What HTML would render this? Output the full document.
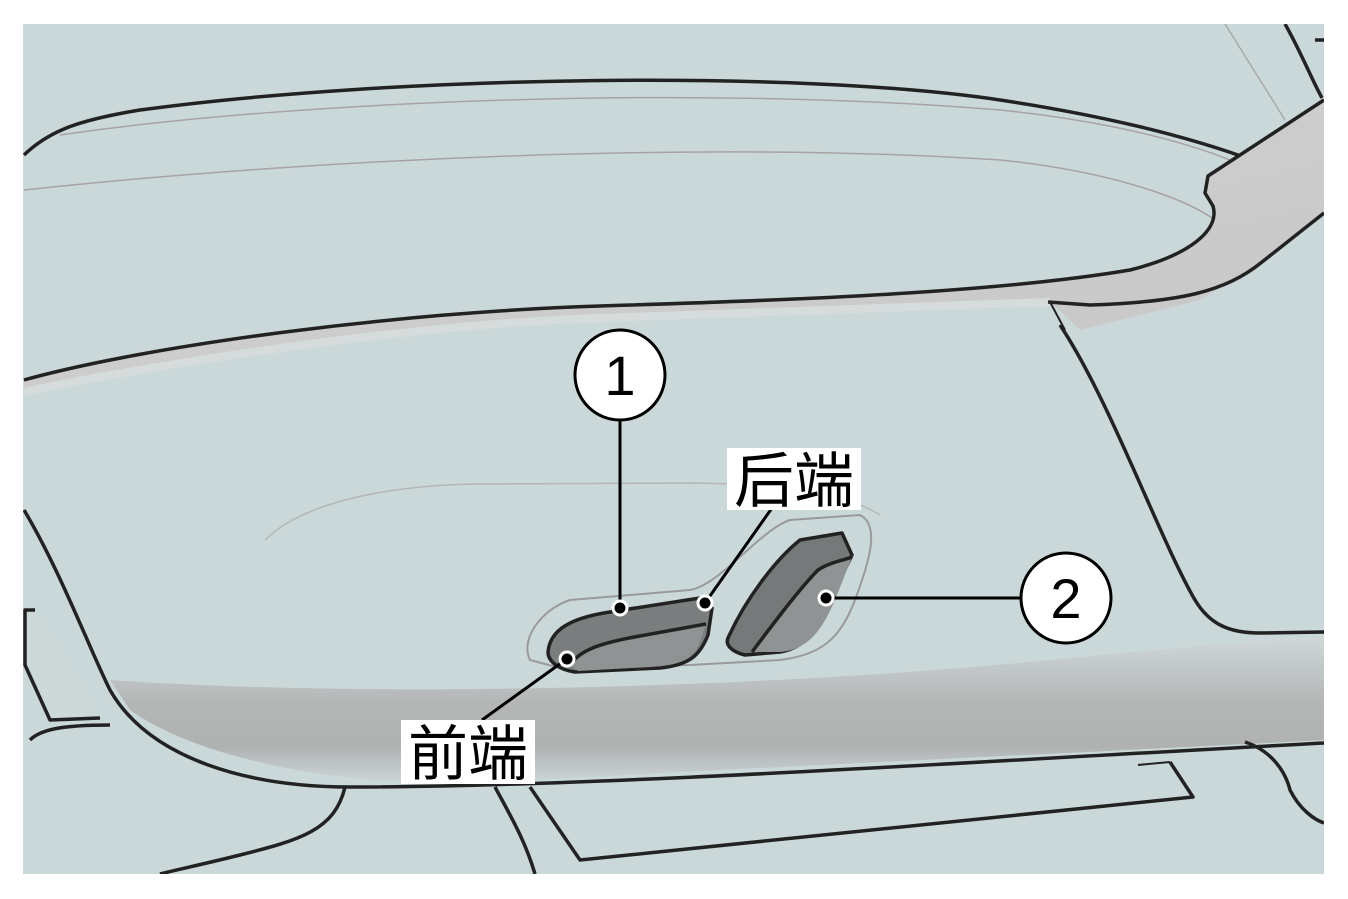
<!DOCTYPE html>
<html><head><meta charset="utf-8"><style>
html,body{margin:0;padding:0;background:#fff;}
svg{display:block;}
text{font-family:"Liberation Sans","Noto Sans CJK SC",sans-serif;}
</style></head><body>
<svg width="1348" height="899" viewBox="0 0 1348 899" xmlns="http://www.w3.org/2000/svg">
<defs>
<linearGradient id="bar" x1="0" y1="0" x2="0" y2="1">
<stop offset="0" stop-color="#cfd8d8"/><stop offset="0.45" stop-color="#b4b6b6"/><stop offset="0.75" stop-color="#b0b2b2"/><stop offset="1" stop-color="#cdd6d7"/>
</linearGradient>
<linearGradient id="trim" x1="0" y1="0" x2="1" y2="1">
<stop offset="0" stop-color="#d4d4d4"/><stop offset="1" stop-color="#c6c6c6"/>
</linearGradient>
<clipPath id="cl"><rect x="23" y="24" width="1301" height="850"/></clipPath>
</defs>
<rect x="23" y="24" width="1301" height="850" fill="#cbd8d9"/>
<g clip-path="url(#cl)" fill="none" stroke="#222" stroke-width="3.5" stroke-linejoin="round">
<path d="M24,190 C300,160 700,140 1000,160 C1100,170 1180,195 1215,220" stroke="#a8a2a2" stroke-width="1.5"/>
<path d="M60,135 C300,100 700,85 1000,110 C1100,120 1180,140 1230,160" stroke="#a8a2a2" stroke-width="1.5"/>
<path d="M1225,24 L1285,120" stroke="#a9a9a9" stroke-width="1.5"/>
<path d="M24,155 C50,130 80,120 140,110 C400,75 800,70 1000,100 C1100,115 1180,135 1238,155"/>
<path d="M1285,24 C1300,50 1312,80 1322,98"/>
<path d="M1315,40 L1324,40"/>
<!-- trim piece -->
<path d="M1324,100 L1240,155 L1208,176 L1205,193 L1213,206 C1220,230 1190,255 1130,270 C1000,292 800,300 600,306 C400,312 150,345 24,380 L24,392 C150,365 400,325 600,318 C800,310 980,304 1050,302 L1080,330 L1200,300 L1260,265 L1324,213 Z" fill="url(#trim)" stroke="none"/>
<path d="M24,392 C150,365 400,325 600,318 C800,310 980,304 1050,302" stroke="#d6dcdc" stroke-width="8"/>
<path d="M1324,100 L1240,155 L1208,176 L1205,193 L1213,206 C1220,230 1190,255 1130,270 C1000,292 800,300 600,306 C400,312 150,345 24,380"/>
<path d="M1324,213 L1262,262 C1225,292 1180,302 1090,305 L1048,302"/>
<path d="M1060,325 C1110,400 1160,540 1195,600 C1210,625 1230,633 1260,633 L1324,632"/>
<path d="M1065,330 L1050,302" stroke-width="2"/>
<!-- lower front bar -->
<path d="M110,680 C400,700 800,685 1050,660 C1200,645 1300,638 1324,636 L1324,740 C1100,752 700,770 500,782 C350,790 200,760 130,710 Z" fill="url(#bar)" stroke="none"/>
<path d="M24,510 C60,570 90,650 110,690 C150,760 250,787 350,787 C600,787 1000,760 1324,743"/>
<path d="M35,610 L25,610 L25,665 L50,720 L100,718" fill="#cdd8d8"/>
<path d="M30,740 C40,730 60,725 110,725"/>
<path d="M345,787 C335,830 300,840 240,855 C200,865 175,870 160,874"/>
<path d="M495,787 C510,815 525,840 535,874"/>
<path d="M530,787 L580,860 L1193,797 L1170,762"/>
<path d="M1138,765 L1170,762" stroke-width="2"/>
<path d="M1245,742 C1270,750 1285,770 1290,790 C1300,810 1315,820 1324,823"/>
<path d="M265,540 C300,505 380,485 480,484 L700,483 C780,485 850,495 880,515" stroke="#b5b5b5" stroke-width="1.5"/>
<path d="M530,660 C520,640 540,610 570,600 L690,590 C720,585 760,530 790,520 L860,515 C880,525 870,560 855,600 C840,640 820,655 780,660 L690,665 L560,668 Z" stroke="#9a9a9a" stroke-width="2"/>
<!-- button 1 -->
<path d="M548,652 C550,630 570,618 610,612 L700,598 L712,608 L708,635 C700,655 690,665 660,668 L575,672 C560,670 548,662 548,652 Z" fill="#7b7e7e"/>
<path d="M570,665 C580,650 600,643 640,636 L706,624 L700,642 C692,660 680,665 650,667 L578,671 Z" fill="#8f9393" stroke="none"/>
<path d="M570,665 C580,650 600,643 640,636 L706,624"/>
<!-- button 2 -->
<path d="M728,638 C745,600 775,560 800,540 L842,533 L852,555 L830,600 C818,630 805,648 780,652 L745,655 C732,652 725,645 728,638 Z" fill="#767979"/>
<path d="M750,652 C770,630 800,590 820,570 C830,562 845,560 852,557 L835,600 C820,635 805,650 780,652 Z" fill="#8f9393" stroke="none"/>
<path d="M752,652 C770,628 800,588 818,570 C830,562 845,560 852,557"/>
</g>
<g stroke="#000" stroke-width="3" fill="none">
<line x1="620" y1="420" x2="620" y2="607"/>
<line x1="1021" y1="598" x2="828" y2="598"/>
<line x1="772" y1="508" x2="705" y2="603"/>
<line x1="482" y1="720" x2="568" y2="658"/>
</g>
<g fill="#000" stroke="#fff" stroke-width="3">
<circle cx="620" cy="608" r="7"/>
<circle cx="826" cy="598" r="7"/>
<circle cx="705" cy="603" r="7"/>
<circle cx="567" cy="659" r="7"/>
</g>
<circle cx="620" cy="375" r="45" fill="#fff" stroke="#000" stroke-width="3"/>
<text x="620" y="395" font-size="56" text-anchor="middle">1</text>
<circle cx="1066" cy="598" r="45" fill="#fff" stroke="#000" stroke-width="3"/>
<text x="1066" y="618" font-size="56" text-anchor="middle">2</text>
<rect x="727" y="448" width="134" height="62" fill="#fff"/>
<text x="794" y="502" font-size="60" text-anchor="middle">后端</text>
<rect x="401" y="720" width="134" height="64" fill="#fff"/>
<text x="468" y="775" font-size="60" text-anchor="middle">前端</text>
</svg>
</body></html>
